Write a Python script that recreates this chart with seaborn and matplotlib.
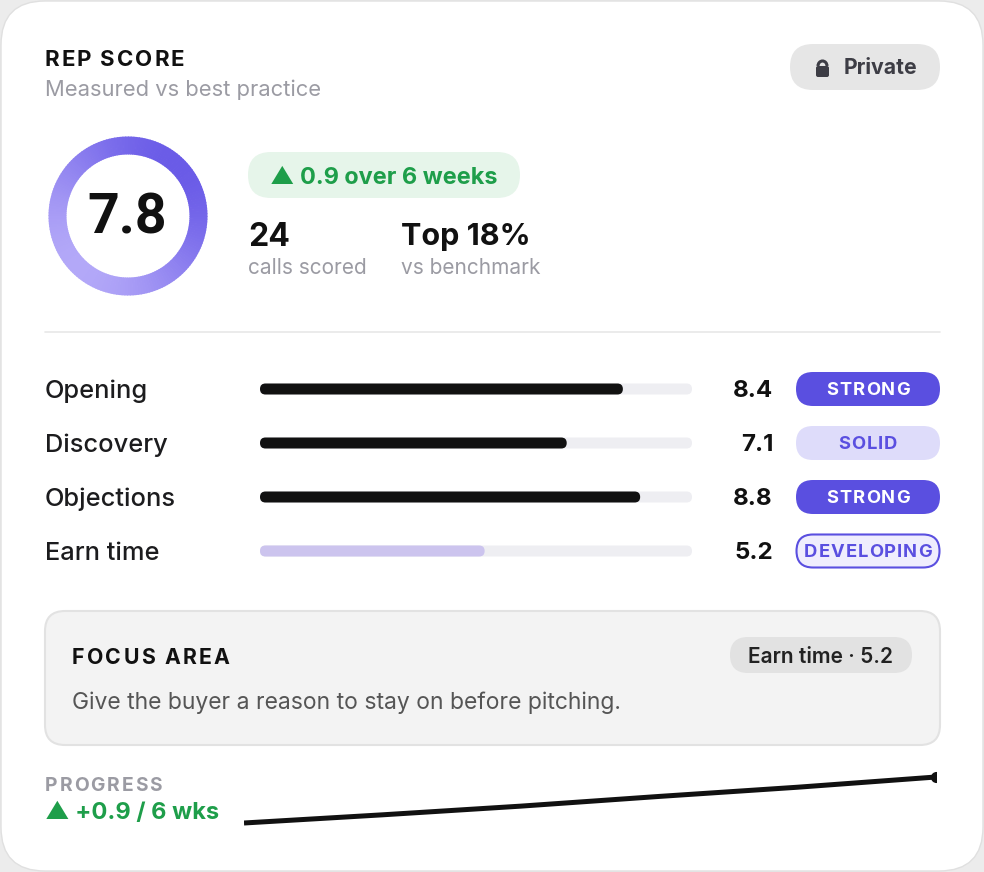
import numpy as np
import pandas as pd
import matplotlib
matplotlib.use("Agg")
import matplotlib.pyplot as plt
import seaborn as sns
from matplotlib.patches import FancyBboxPatch, Wedge, Arc
from matplotlib.colors import to_rgb

# data
skills = ["Opening", "Discovery", "Objections", "Earn time"]
skill_scores = [8.4, 7.1, 8.8, 5.2]
skill_tags = ["STRONG", "SOLID", "STRONG", "DEVELOPING"]
overall_score = 7.8
calls_scored = 24
top_pct = 18
weeks = [1, 2, 3, 4, 5, 6]
weekly_score = [6.9, 7.06, 7.23, 7.42, 7.6, 7.8]

sns.set_theme(style="white")
plt.rcParams["font.family"] = ["Inter", "DejaVu Sans"]

W, H = 984, 872
fig = plt.figure(figsize=(W / 100, H / 100), dpi=100, facecolor="#ececec")
ax = fig.add_axes([0, 0, 1, 1])
ax.set_xlim(0, W)
ax.set_ylim(H, 0)
ax.axis("off")
rend = fig.canvas.get_renderer()

PURPLE = "#5a4fe0"
GREEN = "#1e9e4a"


def pill(x, y, w, h, fc, ec="none", lw=0, r=None):
    r = h / 2 if r is None else r
    ax.add_patch(FancyBboxPatch((x, y), w, h, boxstyle=f"round,pad=0,rounding_size={r}",
                                fc=fc, ec=ec, lw=lw))


def spaced(x, y, s, gap, ha="left", **kw):
    # letter-spaced text, one glyph at a time
    arts, cx = [], 0
    for ch in s:
        t = ax.text(0, y, ch, ha="left", va="center", **kw)
        w = t.get_window_extent(rend).width
        arts.append((t, cx))
        cx += w + gap
    total = cx - gap
    x0 = x - total / 2 if ha == "center" else x
    for t, off in arts:
        t.set_x(x0 + off)


# card
pill(1, 1, W - 2, H - 2, "white", ec="#e0e0e0", lw=1, r=44)

# header
spaced(45, 60, "REP SCORE", 1.9, fontsize=16, fontweight="bold", color="#111111")
ax.text(45, 90, "Measured vs best practice", fontsize=15.8, color="#9b9ba3", va="center")

pill(790, 44, 150, 46, "#e6e6e6")
ax.add_patch(FancyBboxPatch((816, 66), 13, 11, boxstyle="round,pad=0,rounding_size=2",
                            fc="#3d3d45", ec="none"))
ax.add_patch(Arc((822.5, 66), 9, 10, theta1=180, theta2=360, color="#3d3d45", lw=2.2))
ax.text(844, 68, "Private", fontsize=15.3, fontweight="bold", color="#3d3d45", va="center")

# gradient ring
cx, cy, R, rw = 128, 216, 79.5, 18
light, dark = np.array(to_rgb("#b3a8f8")), np.array(to_rgb("#6a5be7"))
n = 180
for k in range(n):
    a0 = 360 * k / n
    am = np.deg2rad(a0 + 180 / n)
    t = (np.cos(am) - np.sin(am)) / np.sqrt(2)
    c = light + (dark - light) * (t + 1) / 2
    ax.add_patch(Wedge((cx, cy), R, a0, a0 + 360 / n + 0.6, width=rw, fc=c, ec="none"))
ax.text(cx - 1, cy + 2, f"{overall_score}", fontsize=40, fontweight="bold", color="#111111",
        family=["Roboto", "DejaVu Sans"], ha="center", va="center")

pill(248, 152, 272, 46, "#e6f5ea")
ax.text(270, 178, f"▲ {weekly_score[-1] - weekly_score[0]:.1f} over {len(weeks)} weeks",
        fontsize=16.9, fontweight="bold", color=GREEN, va="center")
ax.text(248, 237, f"{calls_scored}", fontsize=23, fontweight="bold", color="#111111", va="center")
ax.text(248, 268, "calls scored", fontsize=15, color="#9b9ba3", va="center")
ax.text(401, 237, f"Top {top_pct}%", fontsize=22, fontweight="bold", color="#111111", va="center")
ax.text(401, 268, "vs benchmark", fontsize=15, color="#9b9ba3", va="center")

ax.plot([45, 940], [332, 332], color="#e8e8e8", lw=1.2)

# skill bars
row_y = [389 + 54 * i for i in range(len(skills))]
bax = fig.add_axes([260 / W, 1 - 578 / H, 432 / W, 216 / H])
df = pd.DataFrame({"skill": skills, "score": skill_scores, "max": [10] * len(skills)})
sns.barplot(data=df, x="max", y="skill", color="#ededf3", width=11 / 54, ax=bax)
sns.barplot(data=df, x="score", y="skill", hue="skill",
            palette=["#111111", "#111111", "#111111", "#c7bdf5"],
            width=11 / 54, legend=False, ax=bax)
bax.set_xlim(0, 10)
bax.axis("off")
rr = 5.5 * 10 / 432
asp = (4 / 216) / (10 / 432)
for p in list(bax.patches):
    x, y, w, h = p.get_x(), p.get_y(), p.get_width(), p.get_height()
    fc = p.get_facecolor()
    p.remove()
    bax.add_patch(FancyBboxPatch((x, y), w, h, boxstyle=f"round,pad=0,rounding_size={rr}",
                                 mutation_aspect=asp, fc=fc, ec="none"))

for yy, name, val, tag in zip(row_y, skills, skill_scores, skill_tags):
    ax.text(45, yy + 2, name, fontsize=18.3, fontweight="medium", color="#1c1c1e", va="center")
    ax.text(773, yy + 2, f"{val}", fontsize=17.4, fontweight="bold", color="#111111",
            ha="right", va="center")
    if tag == "STRONG":
        pill(796, yy - 17, 144, 34, PURPLE)
        tc = "white"
    elif tag == "SOLID":
        pill(796, yy - 17, 144, 34, "#dedcfa")
        tc = PURPLE
    else:
        pill(796.5, yy - 16.5, 143, 33, "#efedfd", ec=PURPLE, lw=1.5)
        tc = PURPLE
    spaced(868, yy + 1, tag, 1.0, ha="center", fontsize=13.2, fontweight="bold", color=tc)

# focus area
pill(45, 611, 895, 134, "#f3f3f3", ec="#e2e2e2", lw=1.5, r=20)
spaced(72, 658, "FOCUS AREA", 2.2, fontsize=15.3, fontweight="bold", color="#111111")
pill(730, 637, 182, 36, "#e2e2e2")
ax.text(821, 657, f"{skills[-1]} · {skill_scores[-1]}", fontsize=15, fontweight="semibold",
        color="#222222", ha="center", va="center")
ax.text(72, 703, "Give the buyer a reason to stay on before pitching.", fontsize=16.5,
        color="#555555", va="center")

# progress
spaced(45, 786, "PROGRESS", 1.9, fontsize=13.8, fontweight="bold", color="#9b9ba3")
ax.text(45, 813, f"▲ +{weekly_score[-1] - weekly_score[0]:.1f} / {len(weeks)} wks",
        fontsize=17, fontweight="bold", color=GREEN, va="center")

sax = fig.add_axes([244 / W, 1 - 830 / H, (936 - 244) / W, 60 / H])
sns.lineplot(x=weeks, y=weekly_score, color="#111111", lw=3.6, marker="o", markevery=[-1],
             markersize=8, markeredgewidth=0, solid_capstyle="butt", ax=sax)
sax.set_xlim(weeks[0], weeks[-1])
ypp = 0.9 / 46
sax.set_ylim(6.9 - 7 * ypp, 7.8 + 7 * ypp)
sax.axis("off")

fig.savefig("out.png", dpi=100, facecolor=fig.get_facecolor())
